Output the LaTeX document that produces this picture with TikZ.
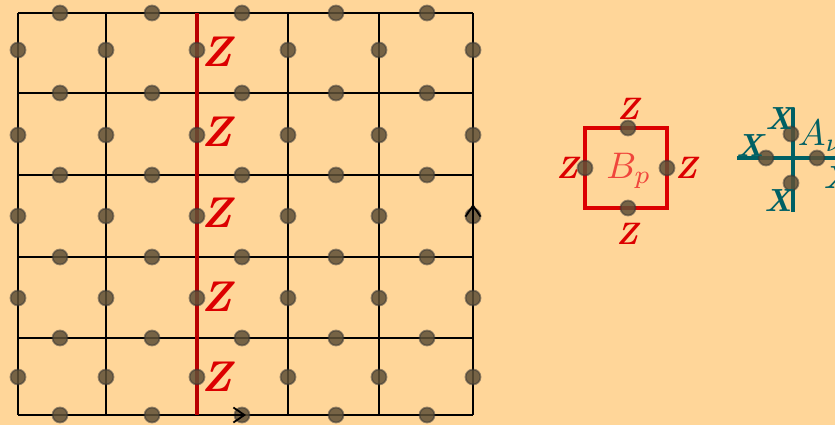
\documentclass[tikz,border=0pt]{standalone}
\usetikzlibrary{arrows.meta}
\definecolor{paper}{RGB}{255,214,153}
\definecolor{zred}{RGB}{220,0,0}
\definecolor{linered}{RGB}{185,0,0}
\definecolor{bpred}{RGB}{240,70,60}
\definecolor{teal}{RGB}{0,96,100}
\definecolor{qubit}{RGB}{95,80,55}
\tikzset{
  qb/.style={circle,inner sep=0pt,minimum size=15pt,fill=qubit,fill opacity=0.85,
             draw=black!80,draw opacity=0.5,line width=1.8pt},
  gridline/.style={line width=1.8pt,black},
  zlab/.style={text=zred,font=\fontsize{43}{45}\selectfont\bfseries\itshape,inner sep=0pt},
  zsmall/.style={text=zred,font=\fontsize{31}{33}\selectfont\bfseries\itshape,inner sep=0pt},
  xlab/.style={text=teal,font=\fontsize{32}{34}\selectfont\bfseries\itshape,inner sep=0pt},
  opname/.style={inner sep=0pt,scale=3.7},
  tip/.style={line width=1.8pt,-{Straight Barb[length=11pt,width=15pt]}}
}
\begin{document}
\begin{tikzpicture}[x=1pt,y=-1pt]
  \fill[paper] (0,0) rectangle (835,425);
  \useasboundingbox (0,0) rectangle (835,425);

  % square lattice
  \foreach \x in {18,106,288,379,473}
    \draw[gridline] (\x,13) -- (\x,415);
  \foreach \y in {13,93,175,257,338,415}
    \draw[gridline] (18,\y) -- (473,\y);
  % string of Z operators
  \draw[line width=3.2pt,linered] (197,13) -- (197,415);

  % qubits on horizontal edges
  \foreach \y [count=\j] in {13,93,175,257,338,415}
    \foreach \x [count=\i] in {60,152,242,336,427}
      \node[qb] (h-\i-\j) at (\x,\y) {};
  % qubits on vertical edges
  \foreach \x [count=\i] in {18,106,197,288,379,473}
    \foreach \y [count=\j] in {50,135,216,298,377}
      \node[qb] (v-\i-\j) at (\x,\y) {};

  % Z labels along the string
  \foreach \y [count=\j] in {52,132,213,297,377}
    \node[zlab] (zs-\j) at (217,\y) {Z};

  % boundary orientation arrows
  \coordinate (ab0) at (222,415);
  \coordinate (ab1) at (246,415);
  \draw[tip] (ab0) -- (ab1);
  \coordinate (ar0) at (473,229);
  \coordinate (ar1) at (473,204);
  \draw[tip] (ar0) -- (ar1);

  % plaquette operator B_p
  \draw[zred,line width=3.6pt] (585,128) rectangle (667,208);
  \node[qb] (p-t) at (628,128) {};
  \node[qb] (p-l) at (585,168) {};
  \node[qb] (p-r) at (667,168) {};
  \node[qb] (p-b) at (628,208) {};
  \node[zsmall] (pz-t) at (628,109) {Z};
  \node[zsmall] (pz-l) at (567,168) {Z};
  \node[zsmall] (pz-r) at (686,168) {Z};
  \node[zsmall] (pz-b) at (627,234) {Z};
  \node[opname,text=bpred] (bp) at (629,171) {$B_p$};

  % star operator A_v
  \coordinate (s-n) at (793,108);
  \coordinate (s-s) at (793,212);
  \coordinate (s-w) at (737,158);
  \coordinate (s-e) at (840,158);
  \draw[teal,line width=3.6pt] (s-n) -- (s-s);
  \draw[teal,line width=3.6pt] (s-w) -- (s-e);
  \node[qb] (a-t) at (791,134) {};
  \node[qb] (a-l) at (766,158) {};
  \node[qb] (a-r) at (817,158) {};
  \node[qb] (a-b) at (791,183) {};
  \node[xlab] (ax-t) at (779,119) {X};
  \node[xlab] (ax-l) at (750,146) {X};
  \node[xlab,anchor=west] (ax-r) at (823,178) {X};
  \node[xlab] (ax-b) at (778,201) {X};
  \node[opname,text=teal,anchor=west] (av) at (797,136) {$A_\nu$};
\end{tikzpicture}
\end{document}
